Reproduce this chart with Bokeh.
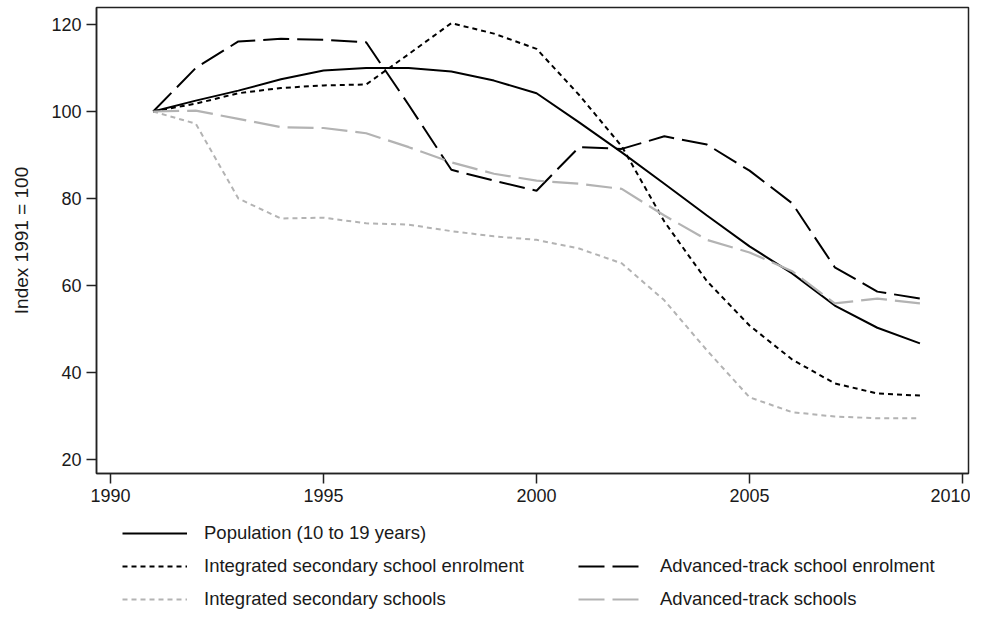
from bokeh.plotting import figure
from bokeh.layouts import column
from bokeh.models import Legend, LegendItem, Range1d, FixedTicker
from bokeh.embed import file_html
from bokeh.resources import INLINE

years = list(range(1991, 2010))
population = [100, 102.5, 104.8, 107.4, 109.4, 110.0, 110.0, 109.2, 107.1, 104.2,
              97.5, 90.6, 83.4, 76.1, 69.0, 62.8, 55.4, 50.3, 46.7]
integrated_enrol = [100, 101.8, 104.2, 105.4, 106.0, 106.2, 113.2, 120.3, 117.9, 114.4,
                    103.8, 92.0, 74.7, 61.0, 50.8, 43.0, 37.5, 35.2, 34.7]
integrated_schools = [100, 97.2, 80.0, 75.4, 75.6, 74.3, 74.0, 72.5, 71.3, 70.5,
                      68.5, 65.1, 56.6, 45.1, 34.3, 30.9, 29.9, 29.5, 29.5]
advanced_enrol = [100, 110.0, 116.1, 116.7, 116.5, 115.9, 101.5, 86.6, 84.1, 81.8,
                  91.8, 91.4, 94.3, 92.4, 86.4, 78.9, 64.2, 58.6, 57.0]
advanced_schools = [100, 100.2, 98.3, 96.4, 96.2, 95.0, 91.8, 88.3, 85.7, 84.1,
                    83.4, 82.2, 76.1, 70.5, 67.6, 63.3, 55.9, 57.0, 55.9]

labels = ["Population (10 to 19 years)",
          "Integrated secondary school enrolment",
          "Integrated secondary schools",
          "Advanced-track school enrolment",
          "Advanced-track schools"]
x_ticks = [1990, 1995, 2000, 2005, 2010]
y_ticks = [20, 40, 60, 80, 100, 120]

FONT = "Liberation Sans"
BLACK = "#000000"
GREY = "#b3b3b3"
TEXT = "#1a1a1a"

styles = [dict(line_color=BLACK, line_width=2),
          dict(line_color=BLACK, line_width=2, line_dash="5 4"),
          dict(line_color=GREY, line_width=2, line_dash="5 4"),
          dict(line_color=BLACK, line_width=2, line_dash="26 8"),
          dict(line_color=GREY, line_width=2.2, line_dash="26 8")]

p = figure(width=970, height=510, output_backend="svg", toolbar_location=None,
           x_range=Range1d(1989.67, 2010.14), y_range=Range1d(16.8, 123.9),
           min_border_left=96, min_border_right=2, min_border_top=7,
           min_border_bottom=37)

p.grid.visible = False
p.outline_line_color = "#222222"
p.outline_line_width = 1.5
p.background_fill_color = "white"
p.border_fill_color = "white"

for ax in (p.xaxis[0], p.yaxis[0]):
    ax.axis_line_color = "#222222"
    ax.axis_line_width = 1.5
    ax.major_tick_line_color = "#222222"
    ax.major_tick_line_width = 1.5
    ax.major_tick_out = 10
    ax.major_tick_in = 0
    ax.minor_tick_line_color = None
    ax.major_label_text_font = FONT
    ax.major_label_text_font_size = "18px"
    ax.major_label_text_color = TEXT

p.xaxis.ticker = FixedTicker(ticks=x_ticks)
p.yaxis.ticker = FixedTicker(ticks=y_ticks)
p.xaxis.major_label_standoff = 5
p.yaxis.major_label_standoff = 5
p.yaxis.axis_label = "Index 1991 = 100"
p.yaxis.axis_label_text_font = FONT
p.yaxis.axis_label_text_font_size = "19px"
p.yaxis.axis_label_text_font_style = "normal"
p.yaxis.axis_label_text_color = TEXT
p.yaxis.axis_label_standoff = 16

series = [population, integrated_enrol, integrated_schools, advanced_enrol, advanced_schools]
for vals, st in zip(series, styles):
    p.line(years, vals, **st)

# legend strip below the chart (its frame is aligned with the chart frame)
lg = figure(width=970, height=100, output_backend="svg", toolbar_location=None,
            x_range=Range1d(0, 1), y_range=Range1d(0, 1),
            min_border_left=96, min_border_right=2, min_border_top=0,
            min_border_bottom=0)
lg.axis.visible = False
lg.grid.visible = False
lg.outline_line_color = None
lg.background_fill_color = "white"
lg.border_fill_color = "white"

# key renderers: same series, lying outside this strip's visible ranges
keys = [lg.line(years, vals, **st) for vals, st in zip(series, styles)]


def make_legend(idx, loc):
    return Legend(items=[LegendItem(label=labels[i], renderers=[keys[i]]) for i in idx],
                  location=loc, orientation="vertical",
                  border_line_color=None, background_fill_alpha=0,
                  padding=0, margin=0, glyph_width=65, glyph_height=20,
                  label_height=20, label_standoff=17, spacing=11,
                  label_text_font=FONT, label_text_font_size="18.5px",
                  label_text_color=TEXT)


lg.add_layout(make_legend([0, 1, 2], (26, 0)))
lg.add_layout(make_legend([3, 4], (482, 0)))

open("out.html", "w").write(file_html(column(p, lg, spacing=0), INLINE))
